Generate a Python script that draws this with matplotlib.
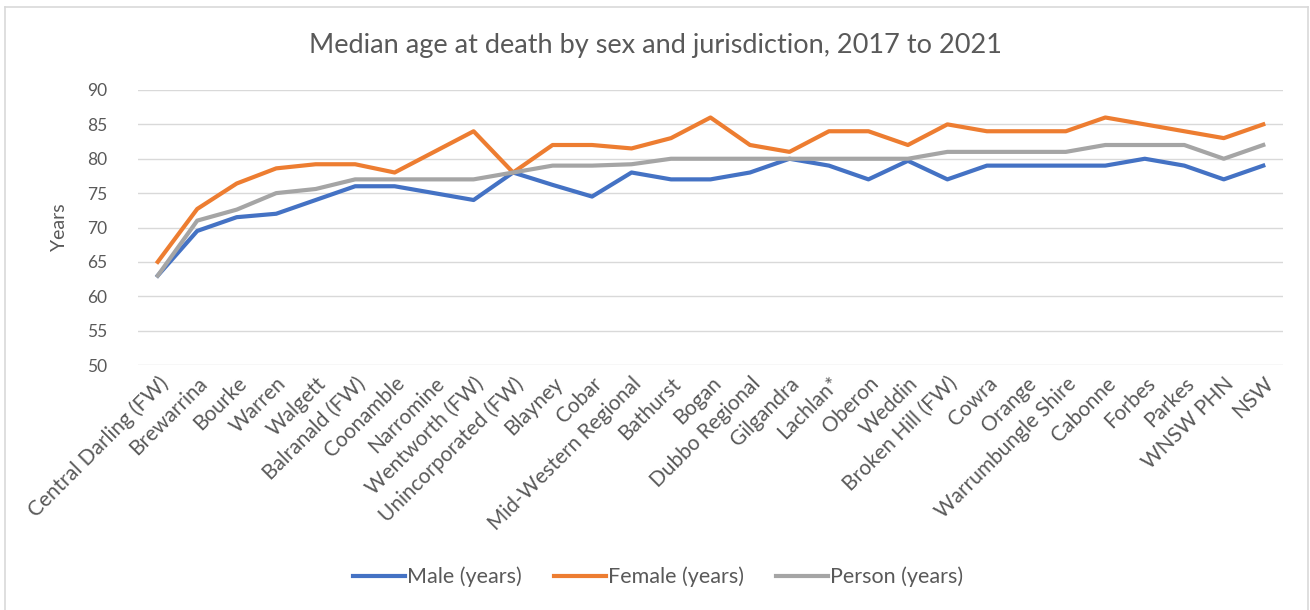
import matplotlib
matplotlib.use("Agg")
import matplotlib.pyplot as plt
from matplotlib.lines import Line2D

plt.rcParams['font.family'] = ['Lato', 'DejaVu Sans']

categories = [
    "Central Darling (FW)", "Brewarrina", "Bourke", "Warren", "Walgett",
    "Balranald (FW)", "Coonamble", "Narromine", "Wentworth (FW)",
    "Unincorporated (FW)", "Blayney", "Cobar", "Mid-Western Regional",
    "Bathurst", "Bogan", "Dubbo Regional", "Gilgandra", "Lachlan*", "Oberon",
    "Weddin", "Broken Hill (FW)", "Cowra", "Orange", "Warrumbungle Shire",
    "Cabonne", "Forbes", "Parkes", "WNSW PHN", "NSW",
]

male = [63, 69.5, 71.5, 72, 74, 76, 76, 75, 74, 78, 76.2, 74.5, 78, 77, 77,
        78, 80, 79, 77, 79.7, 77, 79, 79, 79, 79, 80, 79, 77, 79]
female = [65, 72.7, 76.4, 78.6, 79.2, 79.2, 78, 81, 84, 78, 82, 82, 81.5, 83,
          86, 82, 81, 84, 84, 82, 85, 84, 84, 84, 86, 85, 84, 83, 85]
person = [63, 71, 72.6, 75, 75.6, 77, 77, 77, 77, 78, 79, 79, 79.2, 80, 80,
          80, 80, 80, 80, 80, 81, 81, 81, 81, 82, 82, 82, 80, 82]

yticks = [50, 55, 60, 65, 70, 75, 80, 85, 90]

text_col = "#595959"
fig = plt.figure(figsize=(13.1, 6.1), dpi=100)
ax = fig.add_axes([138 / 1310, 1 - 365 / 610, (1283 - 138) / 1310, (365 - 90) / 610])

x = list(range(len(categories)))
ax.plot(x, male, color="#4472C4", lw=3.0, label="Male (years)", solid_joinstyle="round")
ax.plot(x, female, color="#ED7D31", lw=3.0, label="Female (years)", solid_joinstyle="round")
ax.plot(x, person, color="#A5A5A5", lw=3.0, label="Person (years)", solid_joinstyle="round")

ax.set_xlim(-0.5, len(categories) - 0.5)
ax.set_ylim(50, 90)
ax.set_yticks(yticks)
ax.set_yticklabels([str(v) for v in yticks], color=text_col, fontsize=12.5)
ax.set_xticks(x)
ax.set_xticklabels(categories, rotation=45, ha="right", rotation_mode="anchor",
                   color=text_col, fontsize=15)
ax.tick_params(axis="both", length=0)
ax.tick_params(axis="y", pad=22)
ax.tick_params(axis="x", pad=6)
ax.grid(axis="y", color="#D9D9D9", lw=1)
ax.set_axisbelow(True)
for s in ax.spines.values():
    s.set_visible(False)

ax.set_ylabel("Years", color=text_col, fontsize=14, labelpad=14)

fig.text(655 / 1310, 1 - 45 / 610, "Median age at death by sex and jurisdiction, 2017 to 2021",
         ha="center", va="center", fontsize=19.5, color=text_col)

fig.legend(loc="center", bbox_to_anchor=(658 / 1310, 1 - 577 / 610), ncol=3,
           frameon=False, fontsize=15.5, handlelength=2.4, handletextpad=0.1,
           columnspacing=1.5, labelcolor=text_col)

# Outer chart frame (top, left and right edges)
frame_col = "#D9D9D9"
l, r, t = 5 / 1310, 1308 / 1310, 1 - 7 / 610
fig.add_artist(Line2D([l, r], [t, t], transform=fig.transFigure, color=frame_col, lw=1.2))
fig.add_artist(Line2D([l, l], [0, t], transform=fig.transFigure, color=frame_col, lw=1.2))
fig.add_artist(Line2D([r, r], [0, t], transform=fig.transFigure, color=frame_col, lw=1.2))

fig.savefig("out.png", dpi=100, facecolor="white")
